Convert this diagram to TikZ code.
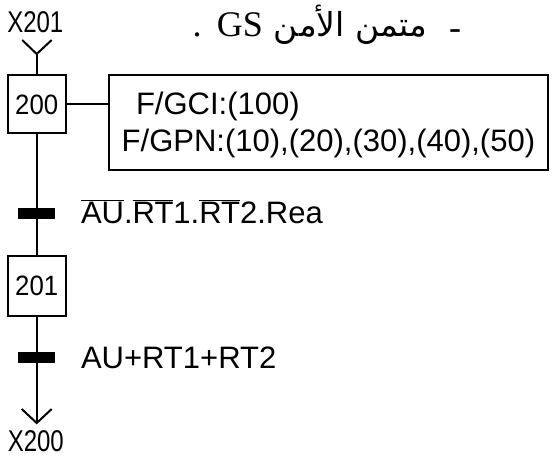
\documentclass[tikz,border=0pt]{standalone}
\usepackage{fontspec}
\setmainfont{Liberation Sans}
\newfontfamily\serifface{Liberation Serif}
\newfontfamily\arabicfont[Script=Arabic]{DejaVu Sans}
\TeXXeTstate=1
\newcommand{\barred}[1]{$\overline{\hbox{#1}}$}
\begin{document}
\begin{tikzpicture}[x=1pt,y=-1pt, line width=2pt,
  lbl/.style={inner sep=0pt, font=\fontsize{31}{37}\selectfont},
  xlbl/.style={inner sep=0pt, anchor=base, font=\fontsize{30}{32}\selectfont},
  stepbox/.style={draw, minimum width=58pt, minimum height=58pt, inner sep=0pt, font=\fontsize{28}{30}\selectfont},
  trbar/.style={fill=black, minimum width=37pt, minimum height=11pt, inner sep=0pt},
  actbox/.style={draw, minimum width=439pt, minimum height=95pt, inner sep=0pt},
  ttl/.style={inner sep=0pt, anchor=base, font=\serifface\fontsize{36}{38}\selectfont}
  ]
\useasboundingbox (0,0) rectangle (555,462);
% steps
\node[stepbox] (s200) at (36.7,104.5) {\scalebox{0.92}[1]{200}};
\node[stepbox, minimum height=60pt] (s201) at (36.7,286) {\scalebox{0.92}[1]{201}};
% action box
\node[actbox] (act) at (328.5,122.5) {};
\node[lbl, anchor=base west] (a1) at (135,115) {F/GCI:(100)};
\node[lbl, anchor=base west] (a2) at (120.7,152) {F/GPN:(10),(20),(30),(40),(50)};
\draw (s200.east) -- (s200.east -| act.west);
% transitions
\node[trbar] (t1) at (36.7,213.5) {};
\node[trbar] (t2) at (36.7,357.5) {};
\node[lbl, anchor=base west] (c1) at (80,223.3) {\barred{AU}.\barred{RT}1.\barred{RT}2.Rea};
\node[lbl, anchor=base west] (c2) at (80,368.3) {AU+RT1+RT2};
\draw (s200.south) -- (s201.north);
% top link
\coordinate (topV) at (36.7,54);
\draw (topV) -- (s200.north);
\draw (topV) ++(-14.5,-14) -- (topV) -- ++(15,-14);
\node[xlbl] (x201) at (35.3,32.3) {\scalebox{0.8}[1]{X201}};
% bottom link
\coordinate (endB) at (36.7,423);
\draw (s201.south) -- (endB);
\draw (endB) ++(-15,-14) -- (endB) -- ++(15,-14);
\node[xlbl] (x200) at (35.8,451.7) {\scalebox{0.8}[1]{X200}};
% title
\node[ttl] (dot) at (197,36.7) {.};
\node[ttl] (gs) at (240,36.7) {GS};
\node[inner sep=0pt, anchor=base east, font=\arabicfont\fontsize{33}{36}\selectfont] (ar) at (428,36.7) {\beginR متمن الأمن\endR};
\node[ttl] (dash) at (455,39.7) {-};
\end{tikzpicture}
\end{document}
